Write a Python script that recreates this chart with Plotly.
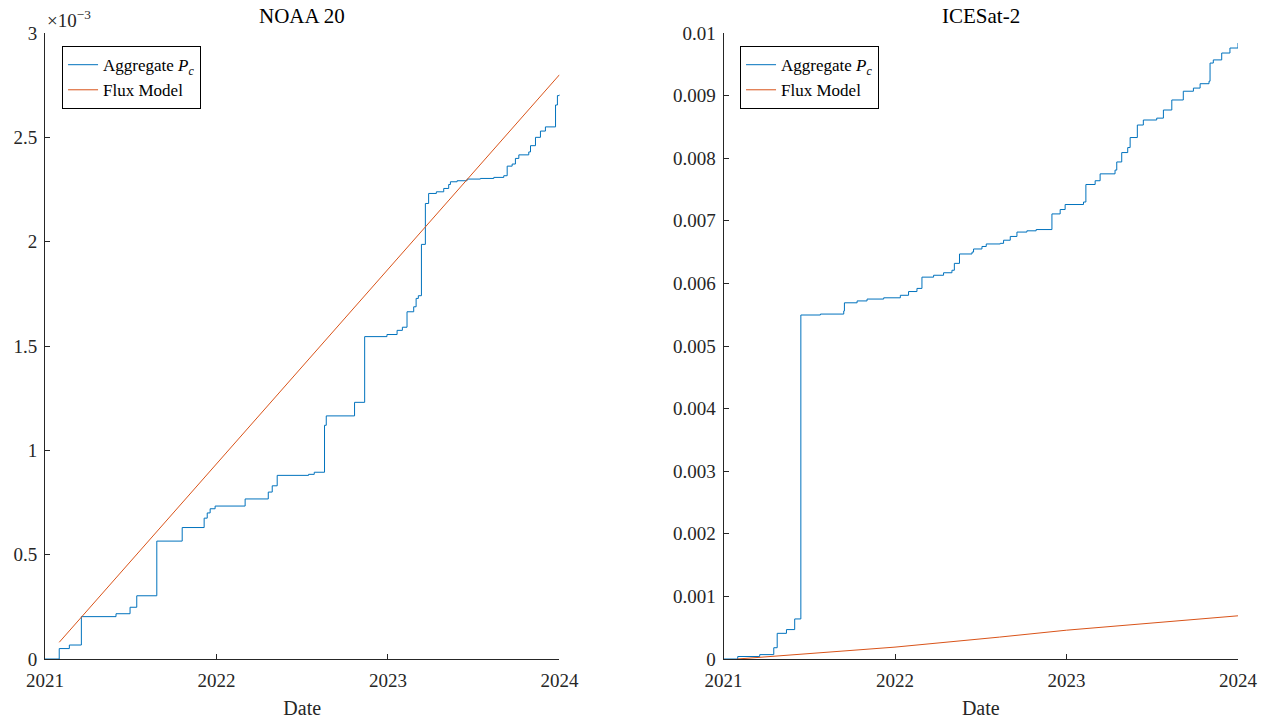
import plotly.graph_objects as go
from plotly.subplots import make_subplots

# ---------------- data ----------------
# NOAA 20 aggregate Pc (decimal years, probability)
noaa_years = [2021.000, 2021.083, 2021.142, 2021.212, 2021.414, 2021.496, 2021.535, 2021.652,
              2021.800, 2021.928, 2021.946, 2021.963, 2021.992, 2022.167, 2022.302, 2022.325,
              2022.354, 2022.537, 2022.570, 2022.630, 2022.640, 2022.805, 2022.864, 2022.994,
              2023.053, 2023.084, 2023.111, 2023.150, 2023.164, 2023.177, 2023.195, 2023.218,
              2023.237, 2023.282, 2023.325, 2023.354, 2023.364, 2023.403, 2023.461, 2023.539,
              2023.617, 2023.675, 2023.695, 2023.724, 2023.743, 2023.763, 2023.821, 2023.831,
              2023.860, 2023.889, 2023.918, 2023.977, 2023.988, 2024.000]
noaa_pc = [0.0, 0.050e-3, 0.067e-3, 0.203e-3, 0.217e-3, 0.248e-3, 0.303e-3, 0.565e-3,
           0.630e-3, 0.675e-3, 0.700e-3, 0.720e-3, 0.733e-3, 0.767e-3, 0.800e-3, 0.830e-3,
           0.880e-3, 0.885e-3, 0.895e-3, 1.120e-3, 1.165e-3, 1.230e-3, 1.545e-3, 1.555e-3,
           1.575e-3, 1.590e-3, 1.664e-3, 1.688e-3, 1.728e-3, 1.741e-3, 1.987e-3, 2.183e-3,
           2.231e-3, 2.239e-3, 2.255e-3, 2.274e-3, 2.287e-3, 2.292e-3, 2.300e-3, 2.303e-3,
           2.308e-3, 2.316e-3, 2.362e-3, 2.372e-3, 2.399e-3, 2.416e-3, 2.430e-3, 2.460e-3,
           2.500e-3, 2.530e-3, 2.550e-3, 2.655e-3, 2.700e-3, 2.705e-3]
noaa_flux_years = [2021.083, 2022.080, 2023.101, 2024.000]
noaa_flux = [0.08e-3, 1.01e-3, 1.96e-3, 2.80e-3]

# ICESat-2 aggregate Pc
ice_years = [2021.000, 2021.083, 2021.211, 2021.293, 2021.313, 2021.367, 2021.415, 2021.451,
             2021.565, 2021.701, 2021.705, 2021.779, 2021.837, 2021.934, 2022.031, 2022.079,
             2022.128, 2022.157, 2022.225, 2022.283, 2022.332, 2022.346, 2022.376, 2022.449,
             2022.458, 2022.507, 2022.532, 2022.614, 2022.633, 2022.672, 2022.711, 2022.769,
             2022.823, 2022.915, 2022.963, 2022.992, 2023.099, 2023.113, 2023.167, 2023.196,
             2023.283, 2023.293, 2023.322, 2023.357, 2023.371, 2023.413, 2023.448, 2023.526,
             2023.565, 2023.614, 2023.681, 2023.740, 2023.779, 2023.831, 2023.837, 2023.856,
             2023.905, 2023.953, 2024.000]
ice_pc = [0.0, 0.00004, 0.00007, 0.00018, 0.00041, 0.00047, 0.00064, 0.005495,
          0.00551, 0.00556, 0.00569, 0.00572, 0.00575, 0.00577, 0.00581, 0.00587,
          0.00592, 0.00610, 0.00613, 0.00617, 0.00621, 0.00632, 0.00647, 0.00650,
          0.00655, 0.00659, 0.00663, 0.00664, 0.00669, 0.00675, 0.00682, 0.00684,
          0.00686, 0.00711, 0.00718, 0.00726, 0.00730, 0.00758, 0.00764, 0.00775,
          0.00781, 0.00794, 0.00809, 0.00817, 0.00833, 0.00853, 0.00861, 0.00864,
          0.00877, 0.00893, 0.00907, 0.00912, 0.00919, 0.00923, 0.00952, 0.00957,
          0.00968, 0.00976, 0.00984]
ice_flux_years = [2021.08, 2022.00, 2022.61, 2023.00, 2024.00]
ice_flux = [0.0, 0.00019, 0.00035, 0.00046, 0.00069]

year_ticks = [2021, 2022, 2023, 2024]
year_labels = ["2021", "2022", "2023", "2024"]
noaa_yticks = [0, 0.5e-3, 1e-3, 1.5e-3, 2e-3, 2.5e-3, 3e-3]
noaa_ylabels = ["0", "0.5", "1", "1.5", "2", "2.5", "3"]
ice_yticks = [0, 0.001, 0.002, 0.003, 0.004, 0.005, 0.006, 0.007, 0.008, 0.009, 0.01]
ice_ylabels = ["0", "0.001", "0.002", "0.003", "0.004", "0.005", "0.006", "0.007", "0.008", "0.009", "0.01"]

BLUE = "#0072BD"
ORANGE = "#D95319"
AX = "#262626"
FONT = "Liberation Serif"

fig = make_subplots(rows=1, cols=2, horizontal_spacing=0.1375)

fig.add_trace(go.Scatter(x=noaa_years, y=noaa_pc, mode="lines", line=dict(color=BLUE, width=1, shape="hv"),
                         name="Aggregate <i>P</i><sub><i>c</i></sub>", legend="legend"), row=1, col=1)
fig.add_trace(go.Scatter(x=noaa_flux_years, y=noaa_flux, mode="lines", line=dict(color=ORANGE, width=1),
                         name="Flux Model", legend="legend"), row=1, col=1)
fig.add_trace(go.Scatter(x=ice_years, y=ice_pc, mode="lines", line=dict(color=BLUE, width=1, shape="hv"),
                         name="Aggregate <i>P</i><sub><i>c</i></sub>", legend="legend2"), row=1, col=2)
fig.add_trace(go.Scatter(x=ice_flux_years, y=ice_flux, mode="lines", line=dict(color=ORANGE, width=1),
                         name="Flux Model", legend="legend2"), row=1, col=2)

axis_common = dict(showgrid=False, zeroline=False, showline=True, linecolor=AX, linewidth=1,
                   ticks="inside", ticklen=5, tickcolor=AX, tickfont=dict(family=FONT, size=19, color=AX),
                   mirror=False, automargin=False)

fig.update_xaxes(**axis_common, range=[2021, 2024], tickvals=year_ticks, ticktext=year_labels,
                 ticklabelstandoff=4,
                 title=dict(text="Date", font=dict(family=FONT, size=20, color=AX), standoff=12))
fig.update_yaxes(**axis_common, ticklabelstandoff=3)
fig.update_yaxes(range=[0, 3e-3], tickvals=noaa_yticks, ticktext=noaa_ylabels, row=1, col=1)
fig.update_yaxes(range=[0, 0.01], tickvals=ice_yticks, ticktext=ice_ylabels, row=1, col=2)

legend_style = dict(y=0.979, xanchor="left", yanchor="top", bgcolor="white",
                    bordercolor="#000000", borderwidth=1, font=dict(family=FONT, size=17, color="#000000"),
                    tracegroupgap=0, itemwidth=30)

fig.update_layout(
    width=1271, height=719,
    margin=dict(l=45, r=33, t=33, b=60),
    paper_bgcolor="white", plot_bgcolor="white",
    font=dict(family=FONT, color=AX),
    legend=dict(x=0.0143, **legend_style),
    legend2=dict(x=0.5826, **legend_style),
    annotations=[
        dict(text="NOAA 20", x=0.2154, y=1.0, xref="paper", yref="paper", xanchor="center", yanchor="bottom",
             yshift=3, showarrow=False, font=dict(family=FONT, size=21, color="#000000")),
        dict(text="ICESat-2", x=0.7842, y=1.0, xref="paper", yref="paper", xanchor="center", yanchor="bottom",
             yshift=3, showarrow=False, font=dict(family=FONT, size=21, color="#000000")),
        dict(text="×10<sup>−3</sup>", x=0.0, y=1.0, xref="paper", yref="paper", xanchor="left", yanchor="bottom",
             yshift=0, showarrow=False, font=dict(family=FONT, size=19, color=AX)),
    ],
)

fig.write_html("out.html")
